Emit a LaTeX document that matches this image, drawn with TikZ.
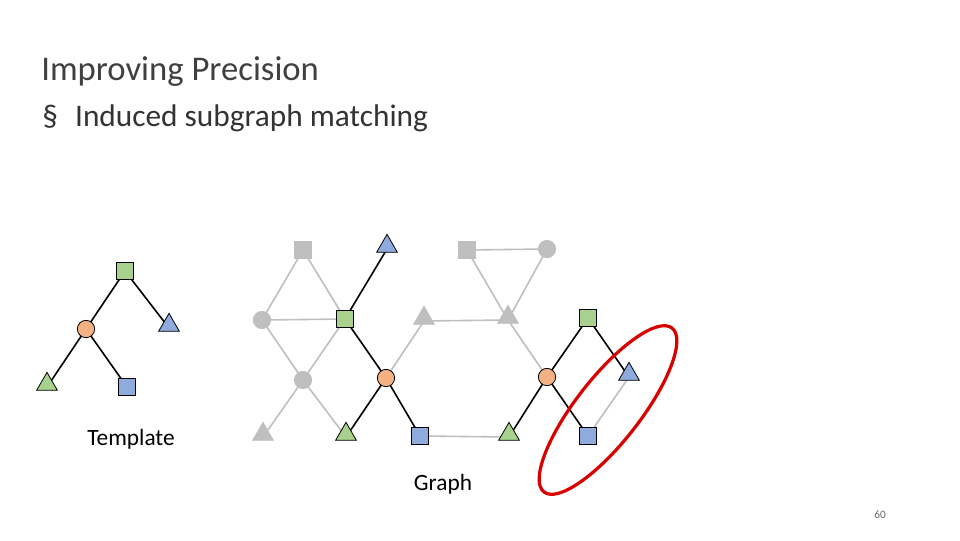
\documentclass[tikz,border=0pt]{standalone}
\usepackage{fontspec}
\setmainfont{Carlito}
\usetikzlibrary{shapes.geometric}
\begin{document}
\begin{tikzpicture}[x=0.75pt,y=-0.75pt,
 sq/.style={draw,rectangle,minimum size=12.5pt,inner sep=0pt,line width=0.6pt},
 ci/.style={draw,circle,minimum size=13pt,inner sep=0pt,line width=0.6pt},
 tr/.style={draw,regular polygon,regular polygon sides=3,minimum size=18pt,inner sep=0pt,line width=0.6pt,yshift=2pt},
 gr/.style={fill=gry,draw=gry},
 G/.style={fill=grn},O/.style={fill=org},B/.style={fill=blu},
 ge/.style={draw=gry,line width=1.2pt},
 be/.style={draw=black,line width=1.2pt}]
\definecolor{gry}{HTML}{BFBFBF}
\definecolor{grn}{HTML}{A9D18E}
\definecolor{org}{HTML}{F4B183}
\definecolor{blu}{HTML}{8FAADC}
\useasboundingbox (0,0) rectangle (960,540);
\node[anchor=base west,inner sep=0pt,font=\fontsize{26}{30}\selectfont,text=black!75] (title) at (41,80) {Improving Precision};
\node[anchor=base west,inner sep=0pt,font=\fontsize{23.5}{28}\selectfont,text=black!80] (bul) at (42,126) {§\hspace{0.55em}Induced subgraph matching};
\coordinate (t1) at (125,271);\coordinate (t2) at (86,329);\coordinate (t3) at (169,328);
\coordinate (t4) at (47,387);\coordinate (t5) at (127,387);
\draw[be] (t1)--(t2) (t1)--(t3) (t2)--(t4) (t2)--(t5);
\coordinate (a) at (303,250);\coordinate (b) at (387,249);\coordinate (c) at (467,250);\coordinate (d) at (547,249);
\coordinate (e) at (262,320);\coordinate (f) at (345,319);\coordinate (g) at (424,321);\coordinate (h) at (508,320);\coordinate (i) at (588,318);
\coordinate (j) at (303,380);\coordinate (k) at (386,378);\coordinate (l) at (547,377);\coordinate (m) at (629,377);
\coordinate (n) at (263,437);\coordinate (o) at (346,437);\coordinate (p) at (420,436);\coordinate (q) at (509,437);\coordinate (r) at (588,436);
\draw[ge] (a)--(e) (a)--(f) (e)--(f) (e)--(j) (f)--(j) (j)--(n) (j)--(o) (k)--(g) (g)--(h) (c)--(d) (c)--(h) (d)--(h) (h)--(l) (p)--(q) (r)--(m);
\draw[be] (b)--(f) (f)--(k) (k)--(o) (k)--(p) (i)--(l) (i)--(m) (l)--(q) (l)--(r);
\node[sq,G] (T1) at (t1) {};\node[ci,O] (T2) at (t2) {};\node[tr,B] (T3) at (t3) {};\node[tr,G] (T4) at (t4) {};\node[sq,B] (T5) at (t5) {};
\node[sq,gr] (A) at (a) {};\node[tr,B] (Bn) at (b) {};\node[sq,gr] (C) at (c) {};\node[ci,gr] (D) at (d) {};
\node[ci,gr] (E) at (e) {};\node[sq,G] (F) at (f) {};\node[tr,gr] (Gn) at (g) {};\node[tr,gr] (H) at (h) {};\node[sq,G] (I) at (i) {};
\node[ci,gr] (J) at (j) {};\node[ci,O] (K) at (k) {};\node[ci,O] (L) at (l) {};\node[tr,B] (M) at (m) {};
\node[tr,gr] (N) at (n) {};\node[tr,G] (Ob) at (o) {};\node[sq,B] (P) at (p) {};\node[tr,G] (Q) at (q) {};\node[sq,B] (R) at (r) {};
\draw[red!85!black,line width=2.4pt,rotate around={52:(608,410)}] (608,410) ellipse [x radius=78pt,y radius=24pt];
\node[font=\fontsize{17.5}{20}\selectfont] (tl) at (131,439) {Template};
\node[font=\fontsize{17.5}{20}\selectfont] (gl) at (443,484) {Graph};
\node[font=\fontsize{8.5}{10}\selectfont,text=black!60] (pg) at (880,515) {60};
\end{tikzpicture}
\end{document}
